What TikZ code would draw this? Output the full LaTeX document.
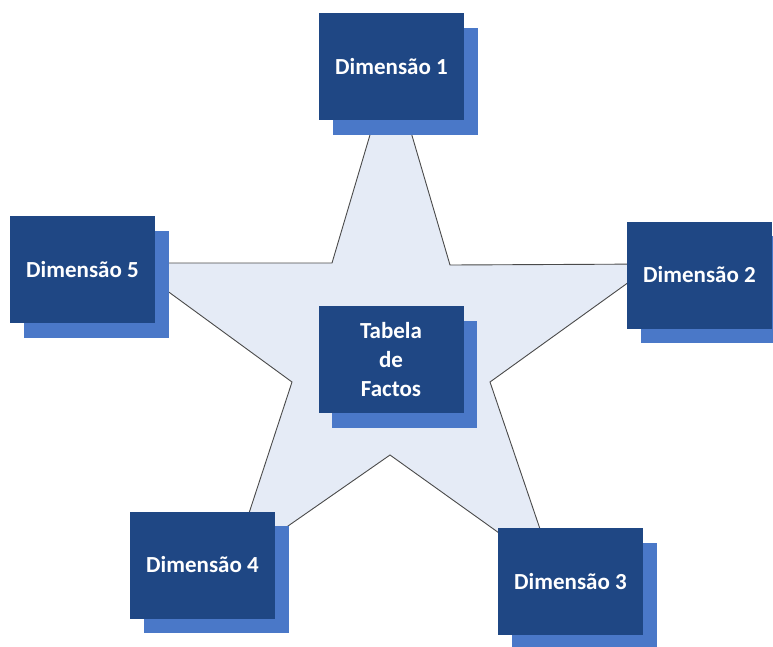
\documentclass[tikz,border=0pt]{standalone}
\usepackage{fontspec}
\setmainfont{Carlito}
\usetikzlibrary{shadows}
\definecolor{boxblue}{HTML}{1F4784}
\definecolor{shadeblue}{HTML}{4A78C8}
\definecolor{starfill}{HTML}{E5EBF6}
\definecolor{starline}{HTML}{4A4A4A}
\tikzset{
  dimbox/.style={rectangle, fill=boxblue, minimum width=145pt, minimum height=107pt,
    inner sep=0pt, text=white, align=center,
    font=\fontsize{23}{29}\selectfont\bfseries,
    copy shadow={shadow xshift=13.5pt, shadow yshift=-14.5pt, fill=shadeblue, draw=none}},
  starshape/.style={fill=starfill, draw=starline, line width=0.9pt, line join=miter}
}
\begin{document}
\begin{tikzpicture}[x=1pt, y=-1pt]
  \useasboundingbox (0,0) rectangle (773,646);
  \clip (0,0) rectangle (773,646);
  \fill[white] (0,0) rectangle (773,646);

  % outer tips of the star (hidden under the boxes) and its inner corners
  \coordinate (t1) at (391,64);
  \coordinate (i12) at (450,265);
  \coordinate (t2) at (654,264);
  \coordinate (i23) at (490,382);
  \coordinate (t3) at (555,573);
  \coordinate (i34) at (390,455);
  \coordinate (t4) at (232,565);
  \coordinate (i45) at (292,382);
  \coordinate (t5) at (129,263);
  \coordinate (i51) at (332,263);

  \draw[starshape] (t1) -- (i12) -- (t2) -- (i23) -- (t3) -- (i34)
    -- (t4) -- (i45) -- (t5) -- (i51) -- cycle;

  % dimension tables around the fact table
  \node[dimbox] (d1) at (391.5,66.5) {Dimensão 1};
  \node[dimbox] (d2) at (699.5,275) {Dimensão 2};
  \node[dimbox] (d3) at (570.5,581.5) {Dimensão 3};
  \node[dimbox] (d4) at (202.5,565) {Dimensão 4};
  \node[dimbox] (d5) at (82.5,269.5) {Dimensão 5};
  \node[dimbox] (f) at (391,359.5) {Tabela\\de\\Factos};
\end{tikzpicture}
\end{document}
